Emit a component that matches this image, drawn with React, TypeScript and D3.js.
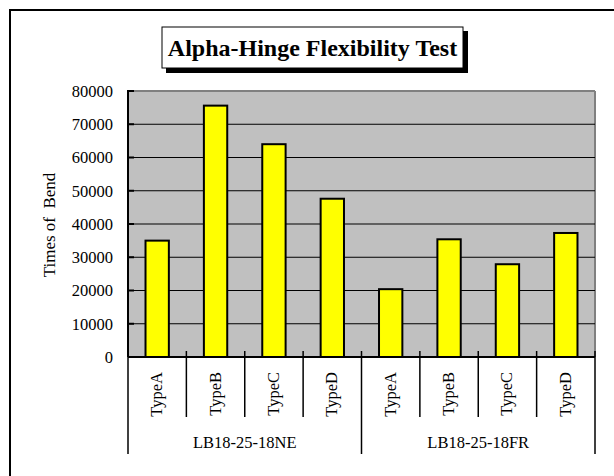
import React from 'react';
import * as d3 from 'd3';

const groups = ['LB18-25-18NE', 'LB18-25-18FR'];
const types = ['TypeA', 'TypeB', 'TypeC', 'TypeD'];
const neValues = [35000, 75600, 64000, 47600];
const frValues = [20400, 35400, 27900, 37300];
const yTicks = [0, 10000, 20000, 30000, 40000, 50000, 60000, 70000, 80000];
const title = 'Alpha-Hinge Flexibility Test';
const yLabel = 'Times of  Bend';

const font = "'Liberation Serif', 'DejaVu Serif', serif";

const App: React.FC = () => {
    const width = 614;
    const height = 476;
    const plot = {left: 128, top: 91, right: 595, bottom: 357};

    // 每個柱子一個類別
    const cats = groups.flatMap((g, gi) => types.map((t, ti) => ({
        key: `${gi}-${ti}`,
        type: t,
        group: g,
        value: (gi === 0 ? neValues : frValues)[ti],
    })));

    const x = d3.scaleBand<string>()
        .domain(cats.map(c => c.key))
        .range([plot.left, plot.right])
        .padding(0);

    const y = d3.scaleLinear()
        .domain([0, 80000])
        .range([plot.bottom, plot.top]);

    const bw = x.bandwidth();
    const barW = bw * 0.4;

    const groupW = bw * types.length;
    const ts: React.CSSProperties = {fontFamily: font};

    return (
        <svg width={width} height={height} viewBox={`0 0 ${width} ${height}`}
             style={{position: 'absolute', left: 0, top: 0, background: '#fff', fontFamily: font}}>
            {/* 外框 */}
            <rect x={10} y={10} width={700} height={600} fill="#fff" stroke="#000" strokeWidth={2}/>

            {/* 標題 */}
            <rect x={166} y={31} width={302} height={42} fill="#000"/>
            <rect x={162} y={27} width={301} height={41} fill="#fff" stroke="#000" strokeWidth={1}/>
            <text x={312.5} y={55.5} textAnchor="middle" fontSize={24} fontWeight="bold" style={ts}>{title}</text>

            {/* 繪圖區 */}
            <rect x={plot.left} y={plot.top} width={plot.right - plot.left} height={plot.bottom - plot.top}
                  fill="#c0c0c0"/>
            <line x1={plot.left} x2={plot.right} y1={plot.top} y2={plot.top} stroke="#808080" strokeWidth={2}/>
            <line x1={plot.right} x2={plot.right} y1={plot.top} y2={plot.bottom} stroke="#808080" strokeWidth={2}/>

            {yTicks.slice(1, -1).map(t => (
                <line key={t} x1={plot.left} x2={plot.right} y1={y(t)} y2={y(t)} stroke="#000" strokeWidth={1}/>
            ))}

            {/* 柱子 */}
            {cats.map(c => {
                const cx = (x(c.key) as number) + bw / 2;
                return (
                    <rect key={c.key} x={cx - barW / 2} y={y(c.value)} width={barW}
                          height={y(0) - y(c.value)} fill="#ffff00" stroke="#000" strokeWidth={2}/>
                );
            })}

            {/* Y 軸 */}
            <line x1={plot.left} x2={plot.left} y1={plot.top - 1} y2={plot.bottom} stroke="#000" strokeWidth={2}/>
            {yTicks.map(t => (
                <g key={t}>
                    <line x1={plot.left} x2={plot.left + 6} y1={y(t)} y2={y(t)} stroke="#000" strokeWidth={2}/>
                    <text x={plot.left - 15} y={y(t)} dy="0.35em" textAnchor="end" fontSize={16.5} style={ts}>{t}</text>
                </g>
            ))}
            <text transform={`translate(55,225) rotate(-90)`} textAnchor="middle" fontSize={17}
                  style={{...ts, whiteSpace: 'pre'}}>{yLabel}</text>

            {/* X 軸 */}
            <line x1={plot.left} x2={plot.right} y1={plot.bottom} y2={plot.bottom} stroke="#000" strokeWidth={2}/>
            {cats.map((c, i) => {
                const x0 = x(c.key) as number;
                const cx = x0 + bw / 2;
                return (
                    <g key={c.key}>
                        {i > 0 && i % types.length !== 0 && (
                            <line x1={x0} x2={x0} y1={plot.bottom - 6} y2={417} stroke="#000" strokeWidth={1.5}/>
                        )}
                        <text transform={`translate(${cx + 5},372) rotate(-90)`} textAnchor="end"
                              fontSize={16.5} style={ts}>{c.type}</text>
                    </g>
                );
            })}
            {d3.range(groups.length + 1).map(i => {
                const gx = plot.left + i * groupW;
                return (
                    <line key={i} x1={gx} x2={gx} y1={plot.bottom - 6} y2={454} stroke="#000" strokeWidth={1.5}/>
                );
            })}
            {groups.map((g, i) => (
                <text key={g} x={plot.left + (i + 0.5) * groupW} y={448} textAnchor="middle" fontSize={16.5}
                      style={ts}>{g}</text>
            ))}
        </svg>
    );
};

export default App;
